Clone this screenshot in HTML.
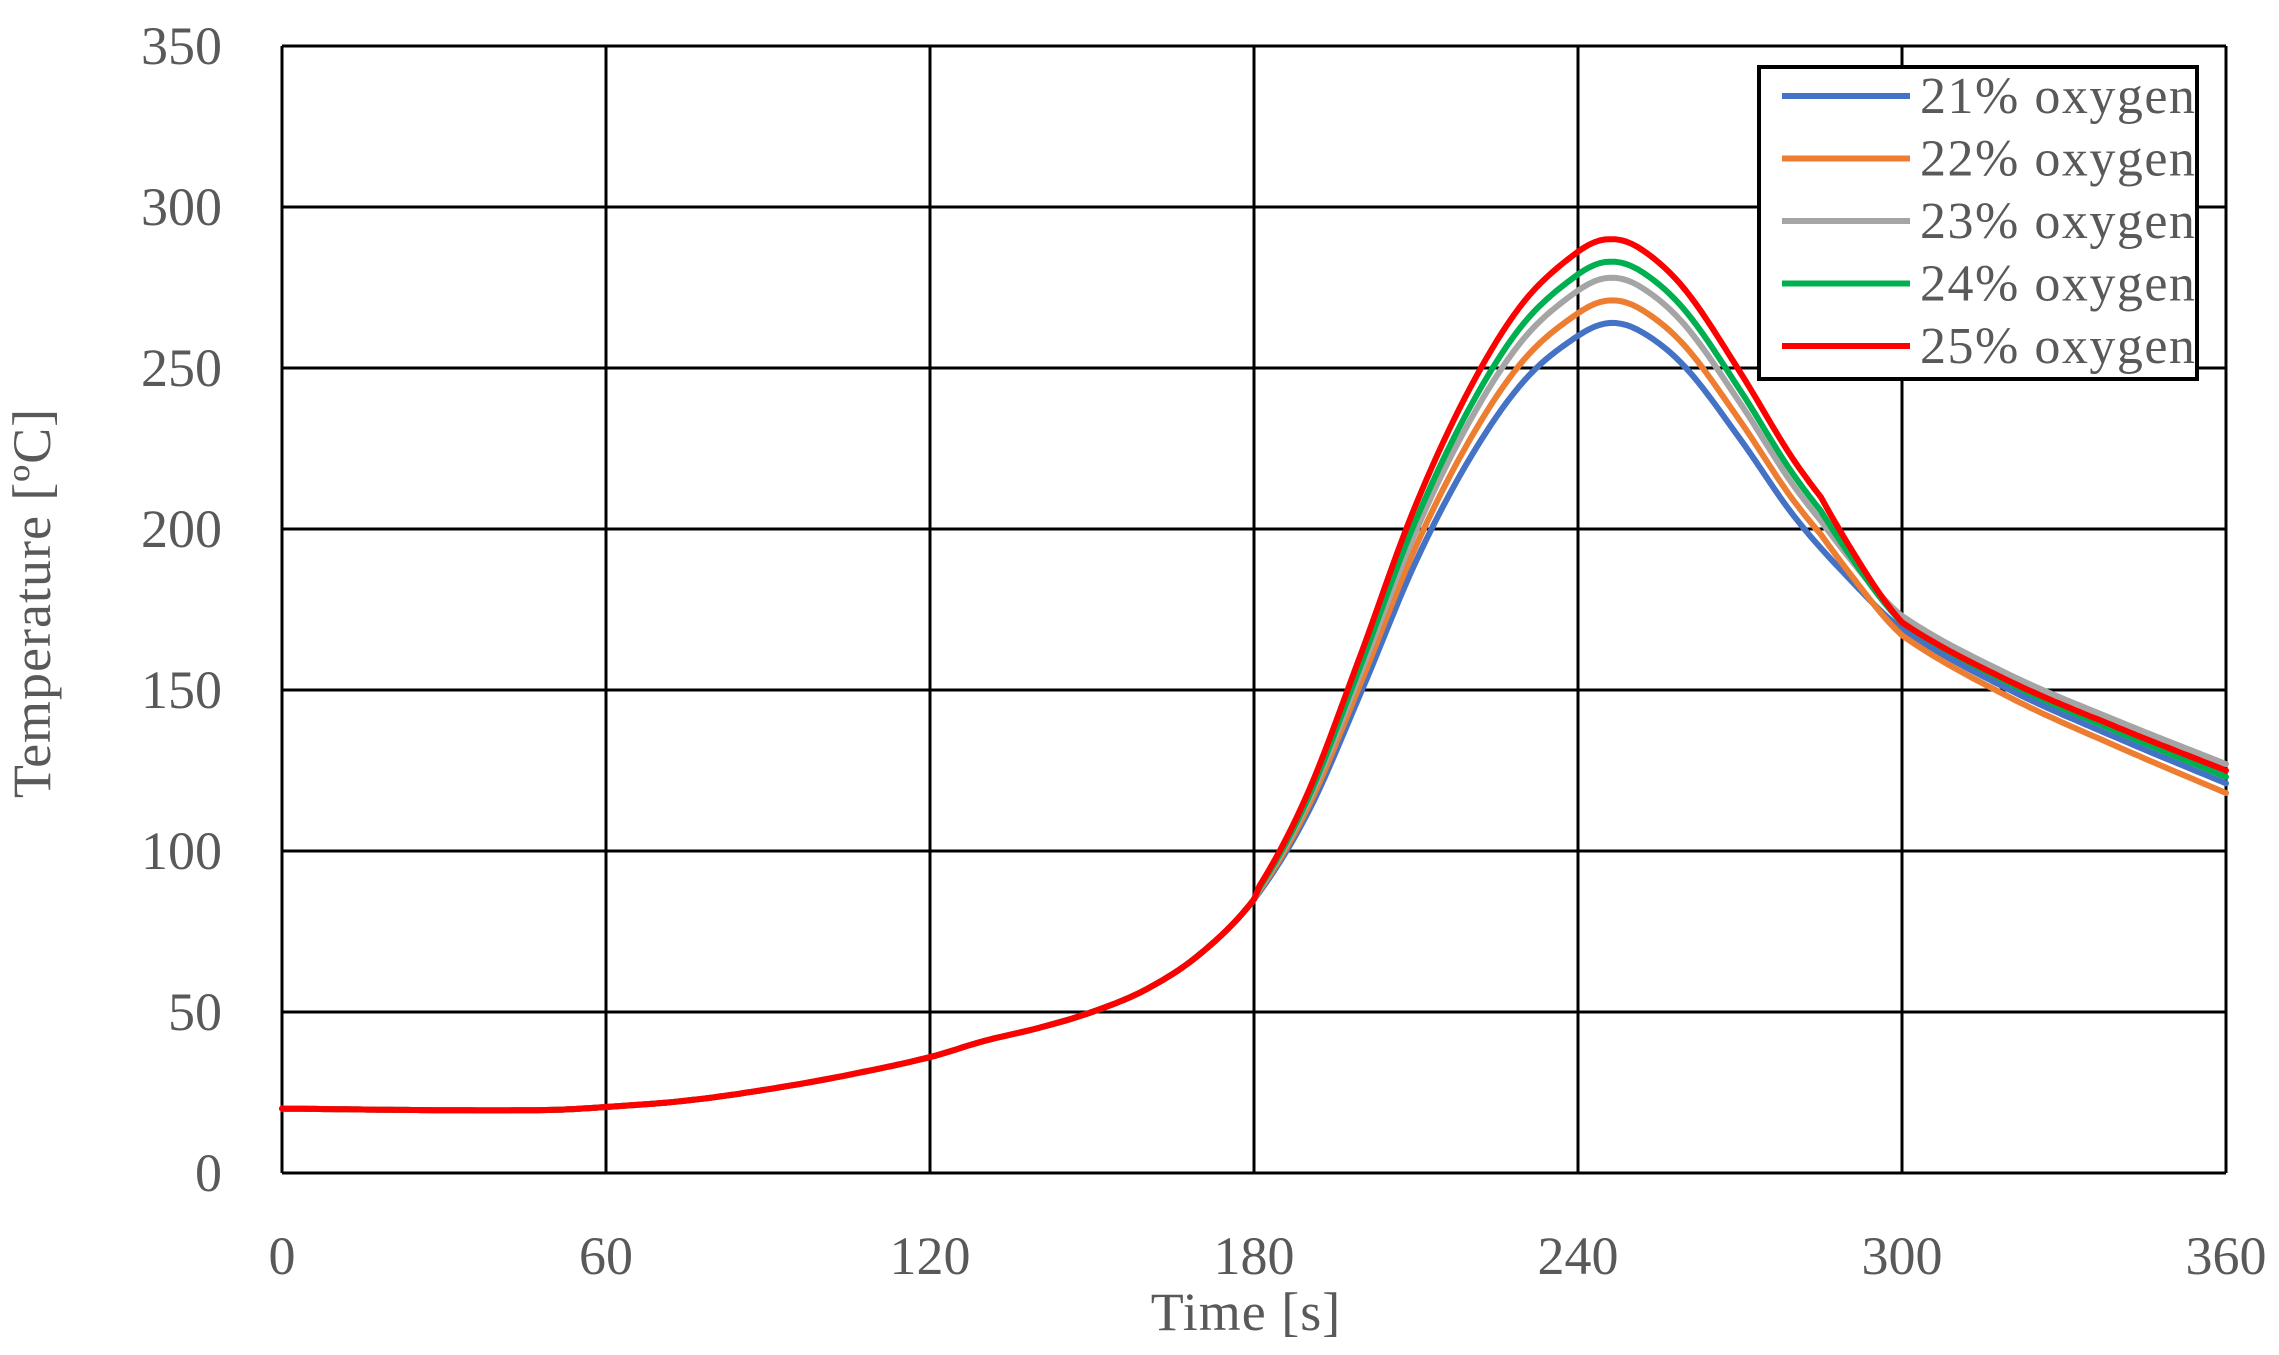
<!DOCTYPE html>
<html><head><meta charset="utf-8"><style>
html,body{margin:0;padding:0;background:#fff;}
svg{display:block;}
text{font-family:"Liberation Serif",serif;fill:#595959;}
</style></head><body>
<svg id="s" width="2279" height="1355" xmlns="http://www.w3.org/2000/svg">
<g id="grid" stroke="#000" stroke-width="3" fill="none"></g>
<g id="labels" font-size="54"></g>
<g id="curves" fill="none" stroke-width="6" stroke-linejoin="round" stroke-linecap="round"></g>
<text x="1246" y="1330" font-size="54" text-anchor="middle" letter-spacing="1">Time [s]</text>
<text transform="translate(50,603) rotate(-90)" font-size="54" text-anchor="middle" letter-spacing="1">Temperature [ºC]</text>
<rect x="1759" y="67" width="438" height="312" fill="#fff" stroke="#000" stroke-width="4"/>
<g id="leg" font-size="52" letter-spacing="1.5"></g>
</svg>
<script>
const L=282,R=2226,T=46,B=1173;
const X=t=>L+(R-L)*t/360, Y=v=>B-(B-T)*v/350;
const ns="http://www.w3.org/2000/svg";
function el(p,n,a,txt){const e=document.createElementNS(ns,n);for(const k in a)e.setAttribute(k,a[k]);if(txt!=null)e.textContent=txt;document.getElementById(p).appendChild(e);}
for(let i=0;i<=7;i++){const y=Y(i*50);el('grid','line',{x1:L,x2:R,y1:y,y2:y});el('labels','text',{x:222,y:y+18,'text-anchor':'end'},String(i*50));}
for(let i=0;i<=6;i++){const x=X(i*60);el('grid','line',{x1:x,x2:x,y1:T,y2:B});el('labels','text',{x:x,y:1274,'text-anchor':'middle'},String(i*60));}
const base=[[0,20],[30,19.5],[50,19.6],[60,20.5],[75,22.5],[90,26],[105,30.5],[120,36],[130,41],[140,45],[150,50],[160,57],[170,68],[180,85],[190,112],[200,150],[210,190],[220,222],[230,246],[240,260],[246,264],[252,261],[260,250],[270,228],[280,204],[290,185],[300,169],[320,150],[340,135],[360,121]];
const series=[["#4472C4",264,[169,121]],["#ED7D31",271,[167,118]],["#A5A5A5",278,[173,127]],["#00B050",283,[171,123]],["#FF0000",290,[171,125]]];
function interp(t){
 if(t<=0)return base[0][1]; if(t>=360)return base[base.length-1][1];
 for(let i=1;i<base.length;i++){if(t<=base[i][0]){
  const p1=base[i-1],p2=base[i],p0=base[Math.max(0,i-2)],p3=base[Math.min(base.length-1,i+1)];
  const h=p2[0]-p1[0],s=(t-p1[0])/h;
  const m1=(p2[1]-p0[1])/(p2[0]-p0[0])*h, m2=(p3[1]-p1[1])/(p3[0]-p1[0])*h;
  const s2=s*s,s3=s2*s;
  return (2*s3-3*s2+1)*p1[1]+(s3-2*s2+s)*m1+(-2*s3+3*s2)*p2[1]+(s3-s2)*m2;}}
}
series.forEach(([c,P,tail],si)=>{
 const f=(P-85)/(264-85);let d="";
 for(let t=0;t<=360;t+=1){
  let v=interp(t);
  if(t>180&&t<300){let vs=85+(v-85)*f; if(t<246)vs=85+(interp(t+(f-1)*4)-85)*f;
    let w=1; if(t>285) w=(300-t)/15;
    v=vs*w+(v+(tail[0]-169))*(1-w);}
  else if(t>=300){const k=(t-300)/60;v=v+(tail[0]-169)*(1-k)+(tail[1]-121)*k;}
  d+=(t?"L":"M")+X(t).toFixed(1)+","+Y(v).toFixed(1);
 }
 el('curves','path',{d:d,stroke:c});
 const y=96+si*62.5;
 el('leg','line',{x1:1782,x2:1910,y1:y,y2:y,stroke:c,'stroke-width':6});
 el('leg','text',{x:1920,y:y+17},(21+si)+"% oxygen");
});
</script>
</body></html>
